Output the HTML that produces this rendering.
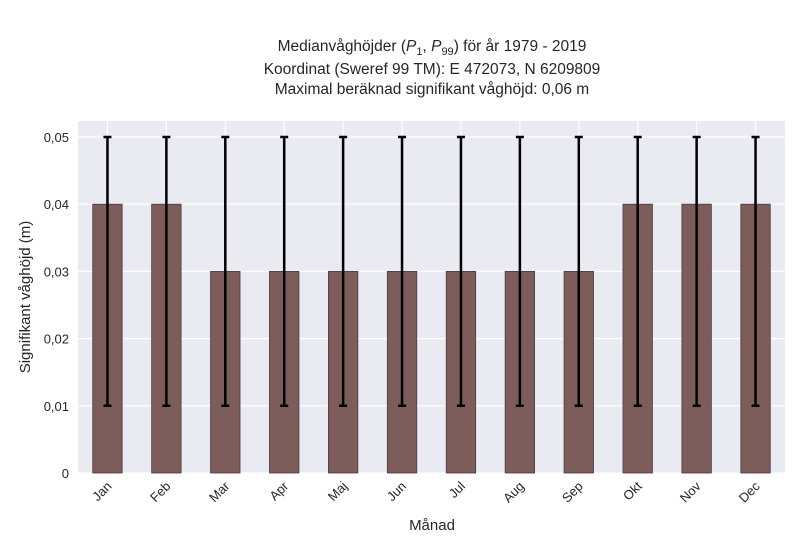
<!DOCTYPE html>
<html><head><meta charset="utf-8"><style>
body{margin:0;background:#fff;font-family:"Liberation Sans",sans-serif;}
svg text{font-family:"Liberation Sans",sans-serif;fill:#262626;}
</style></head><body>
<svg id="chart" width="800" height="550">
<text x="432" y="51" text-anchor="middle" font-size="15.5">Medianvåghöjder (<tspan font-style="italic">P</tspan><tspan font-size="11" dy="4">1</tspan><tspan dy="-4">, </tspan><tspan font-style="italic">P</tspan><tspan font-size="11" dy="4">99</tspan><tspan dy="-4">) för år 1979 - 2019</tspan></text>
<text x="432" y="74" text-anchor="middle" font-size="15.5">Koordinat (Sweref 99 TM): E 472073, N 6209809</text>
<text x="432" y="94" text-anchor="middle" font-size="15.5">Maximal beräknad signifikant våghöjd: 0,06 m</text>
<rect x="78" y="121" width="707" height="352" fill="#eaeaf2"/>
<g id="grid"></g><g id="bars"></g><g id="ticks"></g>
<text x="432" y="530" text-anchor="middle" font-size="15">Månad</text>
<text transform="translate(30,297) rotate(-90)" text-anchor="middle" font-size="15">Signifikant våghöjd (m)</text>
</svg>
<script>
const months=["Jan","Feb","Mar","Apr","Maj","Jun","Jul","Aug","Sep","Okt","Nov","Dec"];
const medians=[0.04,0.04,0.03,0.03,0.03,0.03,0.03,0.03,0.03,0.04,0.04,0.04];
const p1=[0.01,0.01,0.01,0.01,0.01,0.01,0.01,0.01,0.01,0.01,0.01,0.01];
const p99=[0.05,0.05,0.05,0.05,0.05,0.05,0.05,0.05,0.05,0.05,0.05,0.05];
const yTicks=[0,0.01,0.02,0.03,0.04,0.05];
const yLabels=["0","0,01","0,02","0,03","0,04","0,05"];
const NS="http://www.w3.org/2000/svg";
const L=78,R=785,T=121,B=473;
const step=(R-L)/months.length;
const xs=i=>L+step*(i+0.5);
const ys=v=>B-v*(B-137)/0.05;
function mk(tag,attrs,parent){const e=document.createElementNS(NS,tag);for(const k in attrs)e.setAttribute(k,attrs[k]);parent.appendChild(e);return e;}
const grid=document.getElementById('grid'),bars=document.getElementById('bars'),ticks=document.getElementById('ticks');
yTicks.forEach((v,i)=>{
 const g=mk('line',{x1:L,x2:R,y1:ys(v),y2:ys(v),stroke:'#fff','stroke-width':1.2},grid);
 
 
 const t=mk('text',{x:L-9,y:ys(v)+5,'text-anchor':'end','font-size':13},ticks);
 t.textContent=yLabels[i];
 
 
});
months.forEach((m,i)=>{
 const x=xs(i);
 const g=mk('line',{x1:x,x2:x,y1:T,y2:B,stroke:'#fff','stroke-width':1.2},grid);
 
 
 const w=step*0.5;
 const b=mk('rect',{x:x-w/2,y:ys(medians[i]),width:w,height:B-ys(medians[i]),fill:'#7d5c5c',stroke:'#4d3b3b','stroke-width':0.8},bars);
 
 
 const e=mk('path',{d:`M${x},${ys(p1[i])}V${ys(p99[i])}M${x-4},${ys(p1[i])}H${x+4}M${x-4},${ys(p99[i])}H${x+4}`,stroke:'#000','stroke-width':2.5,fill:'none'},bars);
 
 
 const t=mk('text',{transform:`translate(${x+5},${B+14}) rotate(-45)`,'text-anchor':'end','font-size':13},ticks);
 t.textContent=m;
 
 
});
</script>
</body></html>
